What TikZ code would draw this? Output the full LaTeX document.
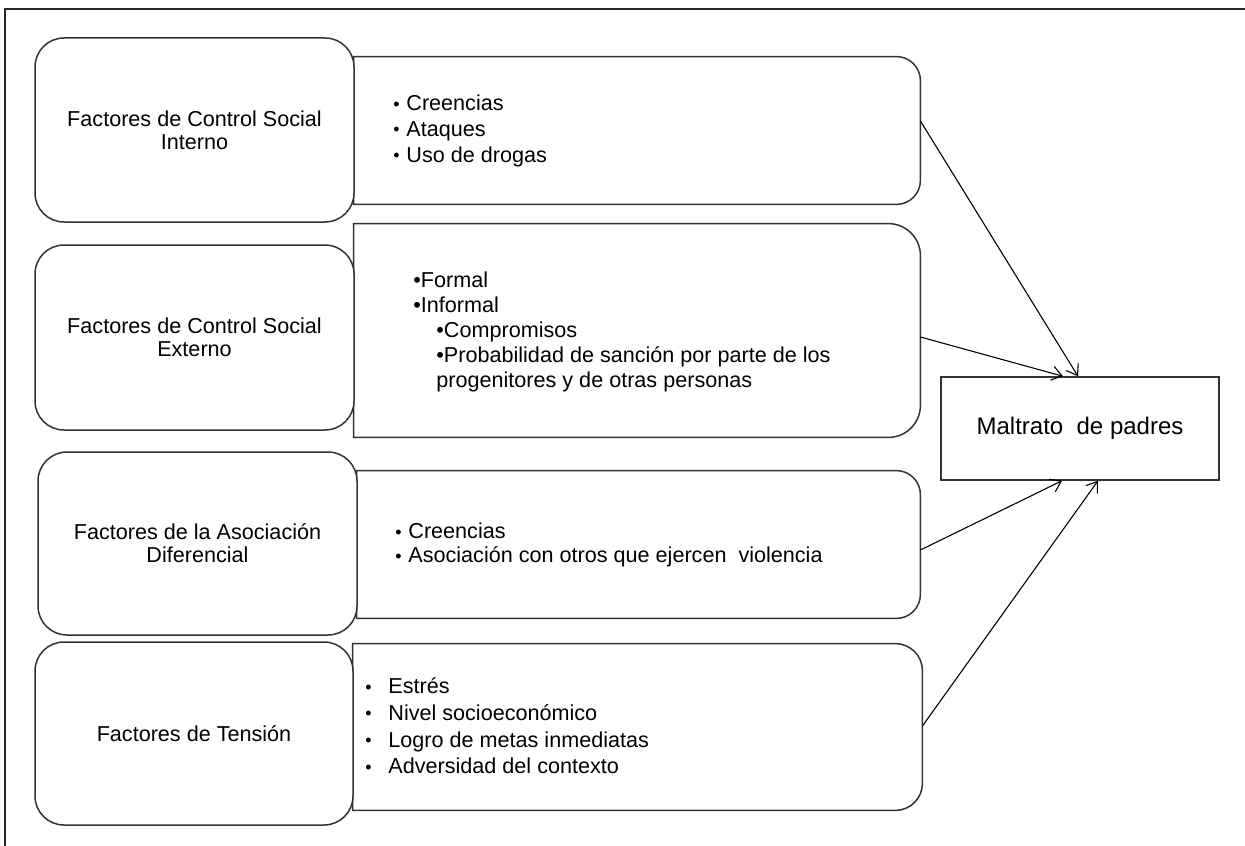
\documentclass[tikz,border=0pt]{standalone}
\usepackage{fontspec}
\setmainfont{Liberation Sans}
\usetikzlibrary{arrows.meta}
% small bullet with a fixed gap before the item text
\newcommand\dotmark{\raisebox{0.3pt}{\fontsize{9}{9}\selectfont •}}
\newcommand\bul{\makebox[6.5pt][l]{\dotmark}}
\newcommand\widebul{\makebox[11.5pt][l]{\dotmark}}
% outline of a box whose right-hand corners are rounded
\newcommand\sidebox[2]{%
  \draw[edge] (#1.north west) -- ([xshift=-#2]#1.north east)
    arc[start angle=90,end angle=0,radius=#2]
    -- ([yshift=#2]#1.south east)
    arc[start angle=0,end angle=-90,radius=#2]
    -- (#1.south west) -- cycle;}
\begin{document}
\begin{tikzpicture}[x=0.5pt,y=-0.5pt,
  edge/.style={draw=black!80,line width=0.75pt},
  factor/.style={edge,fill=white,rounded corners=14.5pt,align=center,
    inner sep=0pt,font=\fontsize{10.8}{11.5}\selectfont},
  holder/.style={draw=none,inner sep=0pt},
  items/.style={anchor=west,align=left,inner sep=0pt},
  link/.style={black,line width=0.55pt,-{Straight Barb[length=5pt,width=7pt]}}]

\clip (0,0) rectangle (1245,845);
\fill[white] (0,0) rectangle (1245,845);

% frame
\draw[black!85,line width=1pt] (5,860) -- (5,9) -- (1260,9);

% detail boxes
\node[holder,minimum width=283pt,minimum height=73.5pt] (r1) at (637,130.5) {};
\node[holder,minimum width=283pt,minimum height=106.5pt] (r2) at (637,330.5) {};
\node[holder,minimum width=281.5pt,minimum height=73.5pt] (r3) at (638.5,544.5) {};
\node[holder,minimum width=284.5pt,minimum height=83pt] (r4) at (637.5,727) {};
\sidebox{r1}{12pt}
\sidebox{r2}{16pt}
\sidebox{r3}{12pt}
\sidebox{r4}{13.5pt}

% factor boxes
\node[factor,minimum width=159.5pt,minimum height=92pt] (f1) at (194.5,130)
  {Factores de Control Social\\Interno};
\node[factor,minimum width=159.5pt,minimum height=92.5pt] (f2) at (194.5,337.5)
  {Factores de Control Social\\Externo};
\node[factor,minimum width=159.5pt,minimum height=91.5pt] (f3) at (197.5,543.5)
  {Factores de la Asociación\\Diferencial};
\node[factor,minimum width=159pt,minimum height=91.5pt] (f4) at (194,733.5)
  {Factores de Tensión};

% item lists
\node[items,font=\fontsize{10.8}{12.8}\selectfont] (t1) at (393,131)
  {\bul Creencias\\\bul Ataques\\\bul Uso de drogas};
\node[items,font=\fontsize{10.8}{12.5}\selectfont] (t2) at (413,332)
  {•Formal\\•Informal\\\hspace*{11.5pt}•Compromisos\\
   \hspace*{11.5pt}•Probabilidad de sanción por parte de los\\
   \hspace*{11.5pt}progenitores y de otras personas};
\node[items,font=\fontsize{10.8}{12}\selectfont] (t3) at (395,545.4)
  {\bul Creencias\\\bul Asociación con otros que ejercen\ \ violencia};
\node[items,font=\fontsize{10.8}{13.3}\selectfont] (t4) at (365,726)
  {\widebul Estrés\\\widebul Nivel socioeconómico\\\widebul Logro de metas inmediatas\\\widebul Adversidad del contexto};

% outcome
\node[edge,inner sep=0pt,minimum width=139pt,minimum height=51.5pt,
  font=\fontsize{12}{14}\selectfont] (m) at (1080,428.5) {Maltrato\ \ de padres};

% connectors
\draw[link] ([yshift=4.75pt]r1.east) -- ([xshift=-1pt]m.north);
\draw[link] ([yshift=-3.25pt]r2.east) -- ([xshift=-8.5pt]m.north);
\draw[link] ([yshift=-2.75pt]r3.east) -- ([xshift=-9pt]m.south);
\draw[link] ([yshift=0.5pt]r4.east) -- ([xshift=9pt]m.south);
\end{tikzpicture}
\end{document}
